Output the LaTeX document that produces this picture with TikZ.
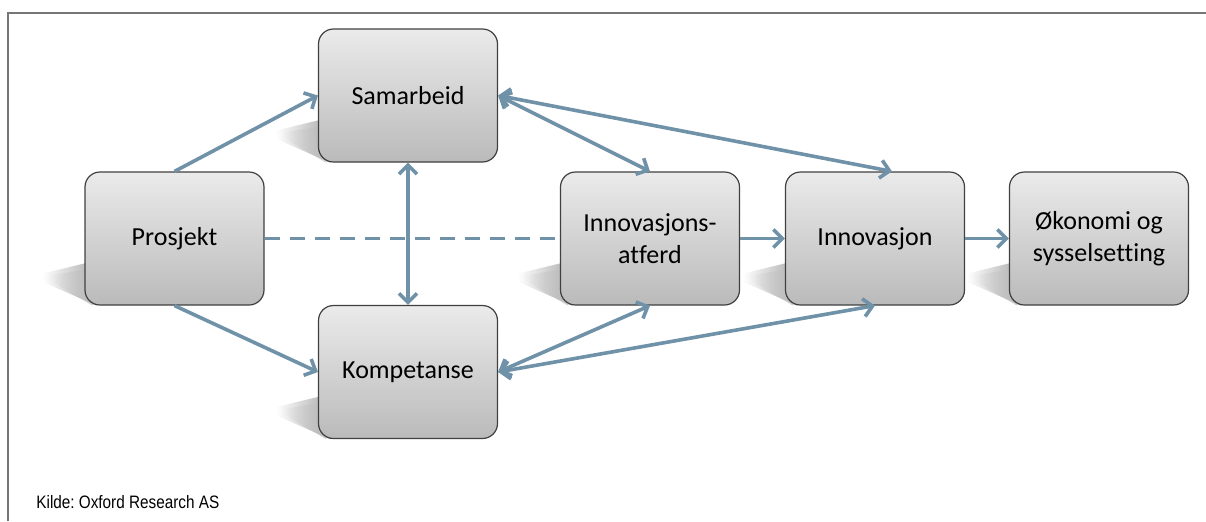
\documentclass[tikz,border=0pt]{standalone}
\usepackage{fontspec}
\setmainfont{Carlito}[Ligatures = NoCommon]
\newfontfamily\kildefont[FakeStretch=0.85]{Liberation Sans}
\usepackage{xcolor}
\usepackage{tikz}
\usetikzlibrary{arrows.meta,backgrounds,fadings}
\definecolor{linkblue}{HTML}{7092A8}
\definecolor{framegray}{HTML}{767676}
\frenchspacing

\begin{document}
\begin{tikzpicture}[
  x = 0.5pt, y = -0.5pt,
  box/.style = {draw = black!75, line width = 0.6pt, rounded corners = 7.5pt,
    top color = black!8, bottom color = black!27,
    minimum width = 89.5pt, minimum height = 66.5pt, align = center,
    font = \fontsize{13}{15.8}\selectfont},
  link/.style = {draw = linkblue, line width = 1.8pt, -{Straight Barb[length = 4.5pt, width = 9pt]}},
  both/.style = {link, {Straight Barb[length = 4.5pt, width = 9pt]}-{Straight Barb[length = 4.5pt, width = 9pt]}}
  ]
  \useasboundingbox (0,0) rectangle (1206,521);
  \draw[framegray, line width = 1pt] (8,521) -- (8,13) -- (1206,13);

  \node[box] (prosjekt)   at (174.5,238.5) {Prosjekt};
  \node[box] (samarbeid)  at (408,95.5)    {Samarbeid};
  \node[box] (kompetanse) at (408,372)     {Kompetanse};
  \node[box] (atferd)     at (650,238.5)   {Innovasjons-\\atferd};
  \node[box] (innovasjon) at (875,238.5)   {Innovasjon};
  \node[box] (okonomi)    at (1099,238.5)  {Økonomi og\\sysselsetting};

  \begin{scope}[on background layer]
    \foreach \n in {prosjekt,samarbeid,kompetanse,atferd,innovasjon,okonomi} {
      \fill[black!40, path fading = west]
        ([xshift = 6pt]\n.south west) -- ([xshift = -21pt, yshift = 12pt]\n.south west)
        -- ([xshift = -21pt, yshift = 16pt]\n.south west)
        -- ([xshift = 12pt, yshift = 24pt]\n.south west) -- cycle;
      \fill[black!25, path fading = west]
        ([xshift = 4pt]\n.south west) -- ([xshift = -18pt, yshift = 13pt]\n.south west)
        -- ([xshift = -18pt, yshift = 15pt]\n.south west)
        -- ([xshift = 12pt, yshift = 20pt]\n.south west) -- cycle;
    }
  \end{scope}

  \draw[link] (prosjekt.north) -- (samarbeid.west);
  \draw[link] (prosjekt.south) -- (kompetanse.west);
  \draw[link, -, dash pattern = on 7.5pt off 5pt] (prosjekt.east) -- (atferd.west);
  \draw[both] (samarbeid.south) -- (kompetanse.north);
  \draw[both] (samarbeid.east) -- (atferd.north);
  \draw[both] (samarbeid.east) -- ([xshift = 8.5pt]innovasjon.north);
  \draw[both] (kompetanse.east) -- (atferd.south);
  \draw[both] (kompetanse.east) -- (innovasjon.south);
  \draw[link] (atferd.east) -- (innovasjon.west);
  \draw[link] (innovasjon.east) -- (okonomi.west);

  \node[anchor = base west, inner sep = 0pt, font = \kildefont\fontsize{9}{11}\selectfont]
    (kilde) at (36,508) {Kilde: Oxford Research AS};
\end{tikzpicture}
\end{document}
